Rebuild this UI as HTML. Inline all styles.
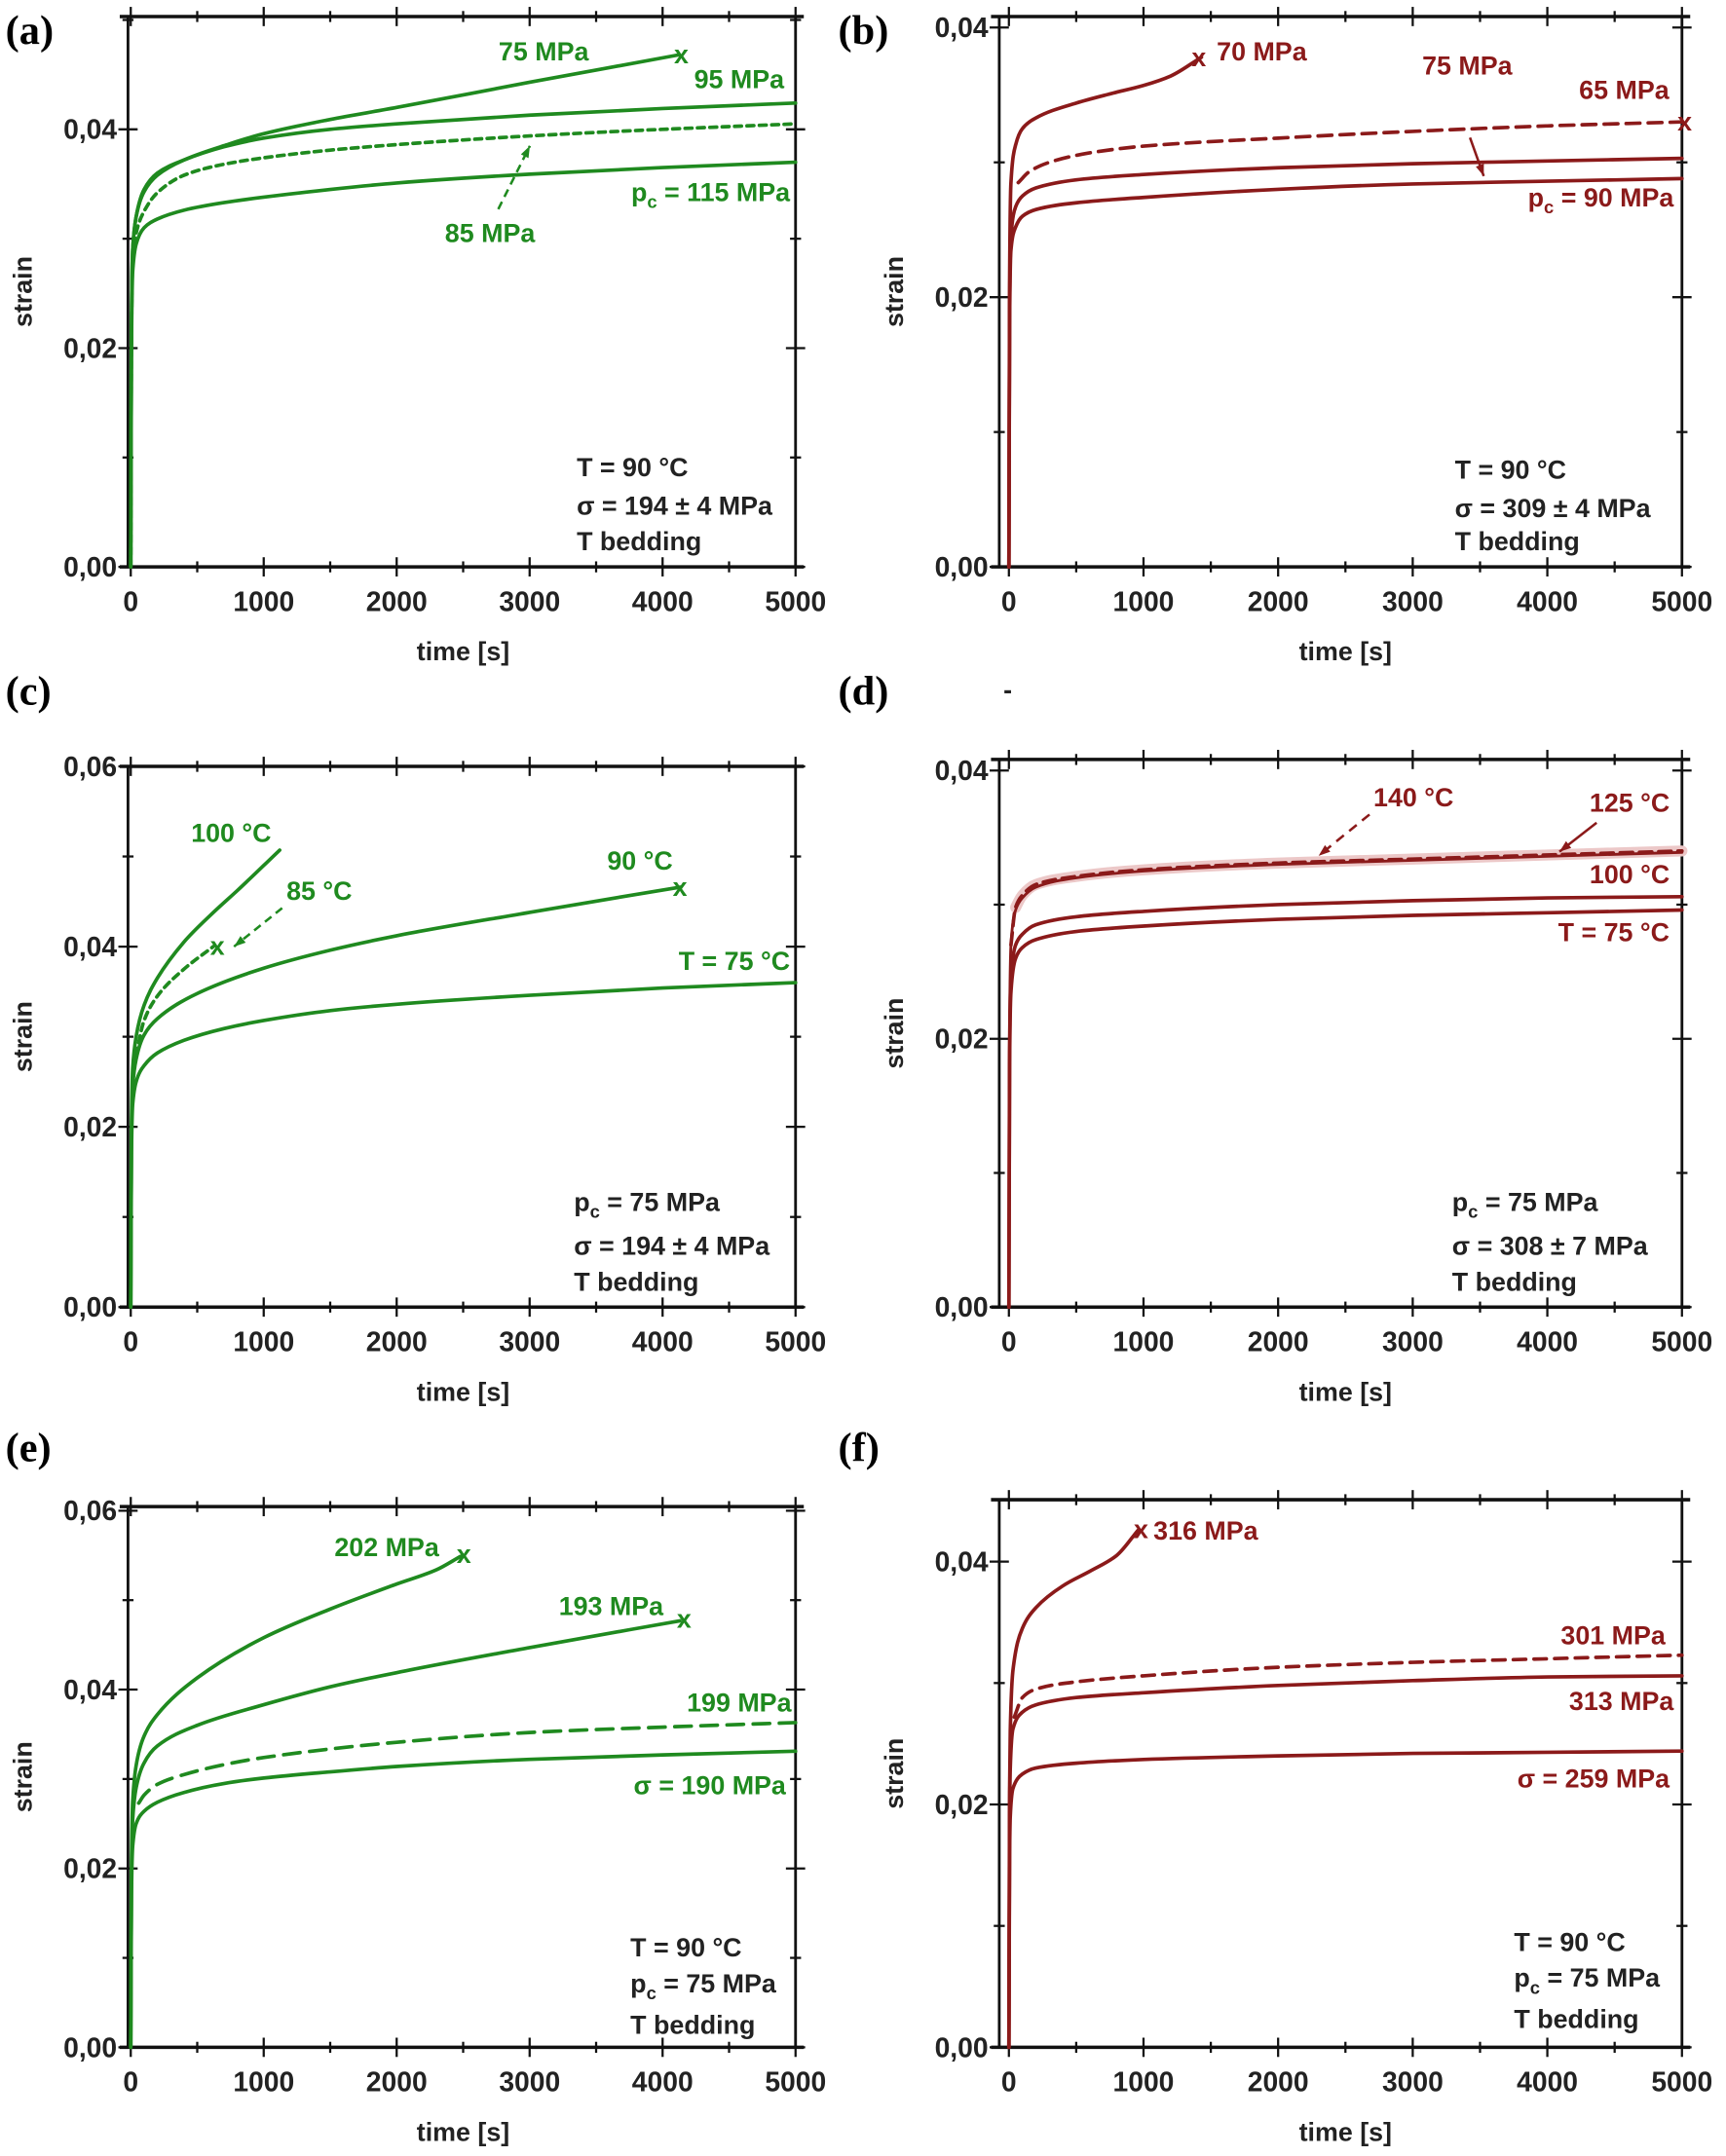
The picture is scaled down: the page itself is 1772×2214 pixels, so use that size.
<!DOCTYPE html>
<html><head><meta charset="utf-8"><style>
html,body{margin:0;padding:0;background:#fff}
svg{display:block}
text{font-family:"Liberation Sans",Arial,sans-serif;font-weight:bold}
.pl{font-family:"Liberation Serif",serif;font-size:30px}
.tk{font-size:20px;fill:#222}
.ax{font-size:19px;fill:#222}
.g{fill:#1f8a1f;font-size:19px}
.r{fill:#8b1a1a;font-size:19px}
.k{fill:#222;font-size:19px}
</style></head><body>
<svg id="fig" width="1772" height="2214" viewBox="0 0 1254 1567" preserveAspectRatio="none" xmlns="http://www.w3.org/2000/svg"></svg>
<script>
// ---- data ----
const tickX=[0,1000,2000,3000,4000,5000];
const tA=[0,5,15,40,100,200,400,700,1000,1500,2000,3000,4000,5000];
const a115=[0,0.020,0.027,0.0295,0.0310,0.0318,0.0326,0.0333,0.0338,0.0345,0.0351,0.0359,0.0365,0.0370];
const a85=[0,0.021,0.028,0.0305,0.0325,0.0342,0.0358,0.0368,0.0374,0.0381,0.0386,0.0394,0.0400,0.0405];
const a95=[0,0.022,0.029,0.0320,0.0345,0.0360,0.0372,0.0384,0.0392,0.0400,0.0405,0.0413,0.0419,0.0424];
const tA75=[0,5,15,40,100,200,400,700,1000,1500,2000,3000,4120];
const a75=[0,0.022,0.029,0.0320,0.0343,0.0358,0.0372,0.0385,0.0396,0.0409,0.0420,0.0443,0.0468];
const tB=[0,5,15,50,100,200,500,1000,2000,3000,4000,5000];
const b75=[0,0.019,0.0245,0.0267,0.0275,0.0281,0.0287,0.0291,0.0296,0.0299,0.0301,0.0303];
const b90=[0,0.018,0.0235,0.0252,0.0260,0.0265,0.0270,0.0274,0.0280,0.0284,0.0286,0.0288];
const tB65=[70,150,300,600,1000,2000,3000,4000,5000];
const b65=[0.0285,0.0293,0.0300,0.0307,0.0312,0.0318,0.0323,0.0327,0.0330];
const tB70=[0,5,15,50,100,200,500,800,1000,1200,1430];
const b70=[0,0.021,0.0285,0.0313,0.0325,0.0333,0.0344,0.0352,0.0357,0.0364,0.0378];
const tC=[0,5,15,40,100,200,400,700,1000,1500,2000,3000,4000,5000];
const c75=[0,0.017,0.0225,0.0250,0.0268,0.0282,0.0296,0.0309,0.0318,0.0329,0.0336,0.0346,0.0354,0.0360];
const tC90=[0,5,15,40,100,200,500,1000,1500,2000,3000,4130];
const c90=[0,0.019,0.0245,0.0275,0.0302,0.0320,0.0348,0.0376,0.0396,0.0412,0.0438,0.0466];
const tC85=[40,100,200,400,620];
const c85=[0.028,0.0318,0.0345,0.0375,0.040];
const tC100=[0,5,15,40,100,200,400,600,800,1120];
const c100=[0,0.020,0.0265,0.0300,0.0335,0.0365,0.0405,0.0435,0.0462,0.0507];
const tD=[0,5,15,50,100,200,500,1000,2000,3000,4000,5000];
const d140=[0,0.021,0.027,0.0298,0.0307,0.0315,0.0321,0.0326,0.0331,0.0334,0.0337,0.0340];
const d125=[0,0.021,0.027,0.0296,0.0305,0.0313,0.0320,0.0325,0.0330,0.0333,0.0336,0.0339];
const d100=[0,0.019,0.0245,0.0270,0.0278,0.0285,0.0291,0.0295,0.0300,0.0303,0.0305,0.0306];
const d75=[0,0.018,0.0235,0.0260,0.0268,0.0274,0.0280,0.0284,0.0289,0.0292,0.0294,0.0296];
const tE=[0,5,15,40,100,200,400,700,1000,1500,2000,3000,4000,5000];
const e190=[0,0.017,0.0225,0.0250,0.0264,0.0274,0.0285,0.0295,0.0301,0.0308,0.0314,0.0322,0.0327,0.0331];
const tE199=[60,100,200,400,700,1000,2000,3000,4000,5000];
const e199=[0.0273,0.0282,0.0294,0.0305,0.0316,0.0324,0.0341,0.0352,0.0358,0.0363];
const tE193=[0,5,15,40,100,200,500,1000,1500,2000,3000,4130];
const e193=[0,0.019,0.0255,0.0290,0.0318,0.0337,0.0360,0.0383,0.0403,0.0419,0.0447,0.0477];
const tE202=[0,5,15,40,100,200,500,1000,1500,2000,2300,2480];
const e202=[0,0.020,0.0275,0.0315,0.0348,0.0372,0.0413,0.0458,0.0490,0.0518,0.0534,0.0549];
const tF=[0,5,10,30,100,200,500,1000,2000,3000,4000,5000];
const f259=[0,0.016,0.019,0.0213,0.0225,0.0230,0.0234,0.0237,0.0240,0.0242,0.0243,0.0244];
const f313=[0,0.019,0.023,0.0262,0.0276,0.0282,0.0288,0.0292,0.0298,0.0302,0.0305,0.0306];
const tF301=[40,100,200,500,1000,2000,3000,4000,5000];
const f301=[0.0272,0.0288,0.0295,0.0301,0.0306,0.0313,0.0317,0.0320,0.0323];
const tF316=[0,5,10,30,100,200,400,600,800,960];
const f316=[0,0.021,0.026,0.0310,0.0345,0.0362,0.0380,0.0392,0.0405,0.0426];

const svg=document.getElementById('fig');
const NS='http://www.w3.org/2000/svg';
function el(tag,attrs,parent){const e=document.createElementNS(NS,tag);for(const k in attrs)e.setAttribute(k,attrs[k]);(parent||svg).appendChild(e);return e;}
function txt(s,x,y,cls,anchor,name,parent){const t=el('text',{x:x,y:y,class:cls,'text-anchor':anchor||'start'},parent);t.innerHTML=s;


return t;}

function panel(cfg){
 const g=el('g',{});
 
 
 const X=t=>cfg.x0+(cfg.x1-cfg.x0)*t/5000;
 const Y=v=>cfg.y0+(cfg.yv-cfg.y0)*v/cfg.vref;
 cfg.X=X;cfg.Y=Y;cfg.g=g;
 const f=el('rect',{x:cfg.l,y:cfg.t,width:cfg.x1-cfg.l,height:cfg.y0-cfg.t,fill:'none',stroke:'#111','stroke-width':2},g);
 
 
 el('line',{x1:cfg.l-6,x2:cfg.x1+6,y1:cfg.y0,y2:cfg.y0,stroke:'#111','stroke-width':2.5},g);
 el('line',{x1:cfg.l-6,x2:cfg.x1+6,y1:cfg.t,y2:cfg.t,stroke:'#111','stroke-width':2.5},g);
 for(let t=0;t<=5000;t+=500){const maj=t%1000===0,L=maj?7:4;
  el('line',{x1:X(t),x2:X(t),y1:cfg.y0-L,y2:cfg.y0+L,stroke:'#111','stroke-width':1.6},g);
  el('line',{x1:X(t),x2:X(t),y1:cfg.t-L,y2:cfg.t+L,stroke:'#111','stroke-width':1.6},g);}
 tickX.forEach(t=>txt(String(t),X(t),cfg.y0+32,'tk','middle','x-tick-label',g));
 for(let v=0;v<=cfg.vmax+1e-9;v+=0.01){const maj=Math.round(v*100)%2===0,L=maj?7:4;const y=Y(v);
  el('line',{x1:cfg.l-L,x2:cfg.l+L,y1:y,y2:y,stroke:'#111','stroke-width':1.6},g);
  el('line',{x1:cfg.x1-L,x2:cfg.x1+L,y1:y,y2:y,stroke:'#111','stroke-width':1.6},g);
  if(maj) txt(v.toFixed(2).replace('.',','),cfg.l-8,y+7,'tk','end','y-tick-label',g);}
 txt('time [s]',(cfg.x0+cfg.x1)/2,cfg.y0+68,'ax','middle','x-axis-title',g);
 const ya=txt('strain',0,0,'ax','middle','y-axis-title',g);
 ya.setAttribute('transform','translate('+(cfg.l-70)+','+((cfg.t+cfg.y0)/2)+') rotate(-90)');
 txt('('+cfg.id+')',cfg.px,cfg.py,'pl','start','panel-label',g);
 return cfg;
}
// monotone cubic path through pixel points
function smoothPath(P){
 const n=P.length;if(n<3){return 'M'+P.map(p=>p[0].toFixed(1)+','+p[1].toFixed(1)).join('L');}
 const dx=[],s=[];for(let i=0;i<n-1;i++){dx.push(Math.max(P[i+1][0]-P[i][0],1e-6));s.push((P[i+1][1]-P[i][1])/dx[i]);}
 const m=[s[0]];for(let i=1;i<n-1;i++){m.push(s[i-1]*s[i]<=0?0:3*(dx[i-1]+dx[i])/((2*dx[i]+dx[i-1])/s[i-1]+(dx[i]+2*dx[i-1])/s[i]));}m.push(s[n-2]);
 let d='M'+P[0][0].toFixed(1)+','+P[0][1].toFixed(1);
 for(let i=0;i<n-1;i++){const h=dx[i]/3;
  d+='C'+(P[i][0]+h).toFixed(1)+','+(P[i][1]+m[i]*h).toFixed(1)+' '+(P[i+1][0]-h).toFixed(1)+','+(P[i+1][1]-m[i+1]*h).toFixed(1)+' '+P[i+1][0].toFixed(1)+','+P[i+1][1].toFixed(1);}
 return d;}
function series(p,ts,vs,color,dash,name,w,from){
 const P=[];ts.forEach((t,i)=>{if(from===undefined||t>=from)P.push([p.X(t),p.Y(vs[i])]);});
 const a={d:smoothPath(P),fill:'none',stroke:color,'stroke-width':w||2.6,'stroke-linejoin':'round','stroke-linecap':'round'};
 if(dash)a['stroke-dasharray']=dash;
 const e=el('path',a,p.g);
 
 
}
function xm(p,x,y,cls){txt('x',x,y+6,cls,'middle','failure-marker',p.g);}
function arrow(p,x1,y1,x2,y2,color,dash){
 const a={x1:x1,y1:y1,x2:x2,y2:y2,stroke:color,'stroke-width':1.8};if(dash)a['stroke-dasharray']=dash;
 const l=el('line',a,p.g);
 
 
 const ang=Math.atan2(y2-y1,x2-x1),s=9;
 el('polygon',{points:x2+','+y2+' '+(x2-s*Math.cos(ang-0.35))+','+(y2-s*Math.sin(ang-0.35))+' '+(x2-s*Math.cos(ang+0.35))+','+(y2-s*Math.sin(ang+0.35)),fill:color},p.g);
}
const G='#1f8a1f',R='#8b1a1a';
// (a)
let A=panel({id:'a',l:93,t:12,x0:95,x1:578,y0:412,yv:94,vref:0.04,vmax:0.05,px:4,py:32});
series(A,tA,a115,G,null,'line-115mpa');series(A,tA,a85,G,'5,4','line-85mpa');series(A,tA,a95,G,null,'line-95mpa');series(A,tA75,a75,G,null,'line-75mpa');
xm(A,495,40,'g');
txt('75 MPa',395,44,'g','middle','label-75mpa',A.g);txt('95 MPa',537,64,'g','middle','label-95mpa',A.g);
txt('85 MPa',356,176,'g','middle','label-85mpa',A.g);txt('p<tspan dy="5" font-size="13">c</tspan><tspan dy="-5"> = 115 MPa</tspan>',574,146,'g','end','label-115mpa',A.g);
arrow(A,362,152,385,106,G,'6,4');
txt('T  = 90 °C',419,346,'k','start','info-temp',A.g);txt('σ  = 194 ± 4 MPa',419,374,'k','start','info-stress',A.g);txt('T bedding',419,400,'k','start','info-bedding',A.g);
// (b)
let B=panel({id:'b',l:726,t:12,x0:733,x1:1222,y0:412,yv:20,vref:0.04,vmax:0.04,px:609,py:32});
series(B,tB,b90,R,null,'line-90mpa');series(B,tB,b75,R,null,'line-75mpa');series(B,tB65,b65,R,'10,6','line-65mpa');series(B,tB70,b70,R,null,'line-70mpa');
xm(B,871,42,'r');xm(B,1224,89,'r');
txt('70 MPa',884,44,'r','start','label-70mpa',B.g);txt('75 MPa',1066,54,'r','middle','label-75mpa',B.g);txt('65 MPa',1180,72,'r','middle','label-65mpa',B.g);
txt('p<tspan dy="5" font-size="13">c</tspan><tspan dy="-5"> = 90 MPa</tspan>',1216,150,'r','end','label-90mpa',B.g);
arrow(B,1068,100,1078,128,R,null);
txt('T  = 90 °C',1057,348,'k','start','info-temp',B.g);txt('σ  = 309 ± 4 MPa',1057,376,'k','start','info-stress',B.g);txt('T bedding',1057,400,'k','start','info-bedding',B.g);
// (c)
let C=panel({id:'c',l:93,t:557,x0:95,x1:578,y0:950,yv:819,vref:0.02,vmax:0.06,px:4,py:512});
series(C,tC,c75,G,null,'line-75c');series(C,tC90,c90,G,null,'line-90c');series(C,tC85,c85,G,'5,4','line-85c');series(C,tC100,c100,G,null,'line-100c');
xm(C,158,688,'g');xm(C,494,645,'g');
txt('100 °C',168,612,'g','middle','label-100c',C.g);txt('85 °C',232,654,'g','middle','label-85c',C.g);txt('90 °C',465,632,'g','middle','label-90c',C.g);txt('T = 75 °C',574,705,'g','end','label-75c',C.g);
arrow(C,205,660,170,688,G,'6,4');
txt('p<tspan dy="5" font-size="13">c</tspan><tspan dy="-5"> = 75 MPa</tspan>',417,880,'k','start','info-pc',C.g);txt('σ  = 194 ± 4 MPa',417,912,'k','start','info-stress',C.g);txt('T bedding',417,938,'k','start','info-bedding',C.g);
// (d)
let D=panel({id:'d',l:726,t:552,x0:733,x1:1222,y0:950,yv:560,vref:0.04,vmax:0.04,px:609,py:512});
series(D,tD,d140,'#ecc8c8',null,'band-140c',8,50);
series(D,tD,d75,R,null,'line-75c');series(D,tD,d100,R,null,'line-100c');series(D,tD,d125,R,null,'line-125c',2);series(D,tD,d140,R,'9,5','line-140c',2.6,15);
txt('140 °C',1027,586,'r','middle','label-140c',D.g);txt('125 °C',1184,590,'r','middle','label-125c',D.g);txt('100 °C',1184,642,'r','middle','label-100c',D.g);txt('T = 75 °C',1213,684,'r','end','label-75c',D.g);
arrow(D,995,592,958,622,R,'7,5');arrow(D,1160,598,1133,619,R,null);
txt('-',729,508,'k','start','stray-mark',D.g);
txt('p<tspan dy="5" font-size="13">c</tspan><tspan dy="-5"> = 75 MPa</tspan>',1055,880,'k','start','info-pc',D.g);txt('σ  = 308 ± 7 MPa',1055,912,'k','start','info-stress',D.g);txt('T bedding',1055,938,'k','start','info-bedding',D.g);
// (e)
let E=panel({id:'e',l:93,t:1095,x0:95,x1:578,y0:1488,yv:1358,vref:0.02,vmax:0.06,px:4,py:1062});
series(E,tE,e190,G,null,'line-190mpa');series(E,tE199,e199,G,'12,7','line-199mpa');series(E,tE193,e193,G,null,'line-193mpa');series(E,tE202,e202,G,null,'line-202mpa');
xm(E,337,1130,'g');xm(E,497,1177,'g');
txt('202 MPa',281,1131,'g','middle','label-202mpa',E.g);txt('193 MPa',444,1174,'g','middle','label-193mpa',E.g);txt('199 MPa',537,1244,'g','middle','label-199mpa',E.g);txt('σ = 190 MPa',571,1304,'g','end','label-190mpa',E.g);
txt('T  = 90 °C',458,1422,'k','start','info-temp',E.g);txt('p<tspan dy="5" font-size="13">c</tspan><tspan dy="-5"> = 75 MPa</tspan>',458,1448,'k','start','info-pc',E.g);txt('T bedding',458,1478,'k','start','info-bedding',E.g);
// (f)
let F=panel({id:'f',l:726,t:1090,x0:733,x1:1222,y0:1488,yv:1135,vref:0.04,vmax:0.04,px:609,py:1062});
series(F,tF,f259,R,null,'line-259mpa');series(F,tF,f313,R,null,'line-313mpa');series(F,tF301,f301,R,'9,6','line-301mpa');series(F,tF316,f316,R,null,'line-316mpa');
xm(F,829,1112,'r');
txt('316 MPa',838,1119,'r','start','label-316mpa',F.g);txt('301 MPa',1172,1195,'r','middle','label-301mpa',F.g);txt('313 MPa',1178,1243,'r','middle','label-313mpa',F.g);txt('σ = 259 MPa',1213,1299,'r','end','label-259mpa',F.g);
txt('T  = 90 °C',1100,1418,'k','start','info-temp',F.g);txt('p<tspan dy="5" font-size="13">c</tspan><tspan dy="-5"> = 75 MPa</tspan>',1100,1444,'k','start','info-pc',F.g);txt('T bedding',1100,1474,'k','start','info-bedding',F.g);
</script>
</body></html>
